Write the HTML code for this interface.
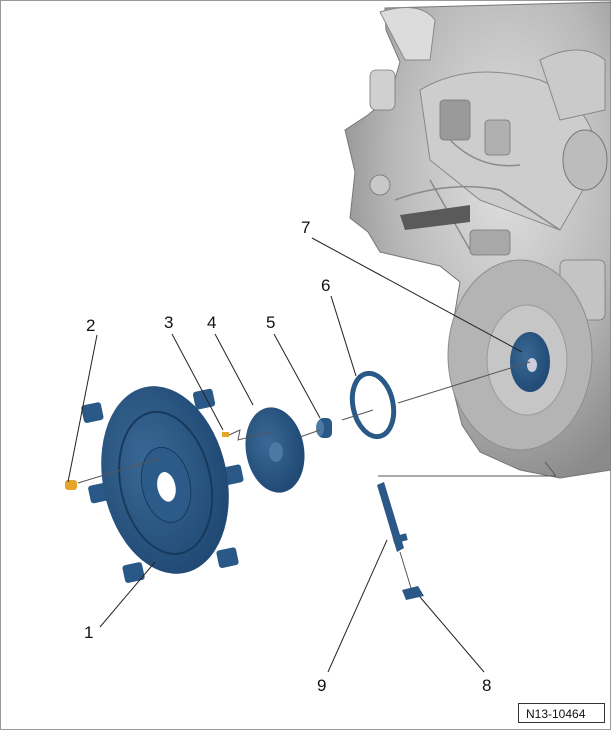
<!DOCTYPE html>
<html><head><style>
html,body{margin:0;padding:0;background:#fff;}
svg{display:block;}
text{font-family:"Liberation Sans",sans-serif;font-size:17px;fill:#111;}
</style></head><body>
<svg width="611" height="730" viewBox="0 0 611 730" xmlns="http://www.w3.org/2000/svg">
<defs>
<radialGradient id="eng" cx="0.6" cy="0.35" r="0.7">
<stop offset="0" stop-color="#e2e2e2"/><stop offset="0.6" stop-color="#b8b8b8"/><stop offset="1" stop-color="#8a8a8a"/>
</radialGradient>
<radialGradient id="bl" cx="0.4" cy="0.4" r="0.7">
<stop offset="0" stop-color="#3a6896"/><stop offset="1" stop-color="#1d4670"/>
</radialGradient>
</defs>
<rect x="0.5" y="0.5" width="610" height="729" fill="#fff" stroke="#999"/>
<!-- engine -->
<path d="M385,8 L611,2 L611,470 L560,478 L520,470 L480,452 L462,425 L452,385 L452,330 L460,282 L440,266 L380,252 L368,232 L350,218 L355,172 L345,130 L368,115 L390,96 L400,62 L386,30 Z" fill="url(#eng)" stroke="#777" stroke-width="1"/>
<path d="M420,90 Q470,60 540,80 Q590,100 600,160 L560,230 L480,200 L430,160 Z" fill="#cdcdcd" stroke="#888"/>
<path d="M380,12 Q420,0 435,20 L430,60 L405,60 Z" fill="#dcdcdc" stroke="#888"/>
<path d="M540,60 Q580,40 605,60 L605,110 L560,120 Z" fill="#cacaca" stroke="#888"/>
<g fill="#9a9a9a" stroke="#777" stroke-width="0.8">
<rect x="440" y="100" width="30" height="40" rx="4"/>
<rect x="485" y="120" width="25" height="35" rx="4" fill="#b0b0b0"/>
<circle cx="380" cy="185" r="10" fill="#c8c8c8"/>
<rect x="470" y="230" width="40" height="25" rx="4" fill="#a8a8a8"/>
<rect x="560" y="260" width="45" height="60" rx="6" fill="#c4c4c4"/>
<rect x="370" y="70" width="25" height="40" rx="6" fill="#d0d0d0"/>
</g>
<g stroke="#8a8a8a" stroke-width="1.5" fill="none">
<path d="M395,200 Q450,180 500,190 L560,230"/>
<path d="M450,140 Q480,170 520,165"/>
<path d="M430,180 L470,250"/>
</g>
<path d="M400,215 L470,205 L470,222 L405,230 Z" fill="#5a5a5a"/>
<ellipse cx="585" cy="160" rx="22" ry="30" fill="#bcbcbc" stroke="#777"/>
<ellipse cx="520" cy="355" rx="72" ry="95" fill="#b4b4b4" stroke="#8d8d8d"/>
<ellipse cx="527" cy="360" rx="40" ry="55" fill="#c6c6c6" stroke="#999"/>
<ellipse cx="530" cy="362" rx="20" ry="30" fill="url(#bl)"/>
<ellipse cx="532" cy="365" rx="5" ry="7" fill="#ccd"/>
<!-- flywheel -->
<g transform="rotate(-12 165 480)">
<rect x="98" y="390" width="20" height="18" rx="3" fill="#2a5988"/>
<rect x="210" y="400" width="20" height="18" rx="3" fill="#2a5988"/>
<rect x="88" y="470" width="20" height="18" rx="3" fill="#2a5988"/>
<rect x="222" y="480" width="20" height="18" rx="3" fill="#2a5988"/>
<rect x="105" y="555" width="20" height="18" rx="3" fill="#2a5988"/>
<rect x="200" y="560" width="20" height="18" rx="3" fill="#2a5988"/>
<ellipse cx="165" cy="480" rx="62" ry="95" fill="url(#bl)"/>
<ellipse cx="165" cy="483" rx="45" ry="72" fill="none" stroke="#17395c" stroke-width="2"/>
<ellipse cx="165" cy="485" rx="24" ry="38" fill="#2c5b8a" stroke="#17395c"/>
<ellipse cx="165" cy="487" rx="9" ry="15" fill="#fff"/>
</g>
<!-- disc 4 -->
<ellipse cx="275" cy="450" rx="29" ry="43" transform="rotate(-10 275 450)" fill="url(#bl)"/>
<ellipse cx="276" cy="452" rx="7" ry="10" fill="#4a79a6"/>
<!-- part 5 -->
<rect x="318" y="418" width="14" height="20" rx="5" fill="#2a5988"/>
<ellipse cx="320" cy="428" rx="4" ry="8" fill="#4d7aa5"/>
<!-- ring 6 -->
<ellipse cx="373" cy="405" rx="20" ry="32" transform="rotate(-12 373 405)" fill="none" stroke="#2a5988" stroke-width="5"/>
<!-- bolt 2 and part 3 -->
<rect x="65" y="480" width="12" height="10" rx="3" fill="#e6a52a"/>
<rect x="222" y="432" width="7" height="5" fill="#e6a52a"/>
<!-- sensor 9 -->
<path d="M377,485 L384,482 L404,548 L397,552 Z" fill="#2a5988"/>
<rect x="393" y="535" width="14" height="7" fill="#2a5988" transform="rotate(-15 400 538)"/>
<path d="M402,590 L418,586 L424,596 L406,600 Z" fill="#2a5988"/>
<!-- dash/assembly lines -->
<g stroke="#555" stroke-width="1" fill="none">
<line x1="78" y1="483" x2="160" y2="458"/>
<path d="M229,435 L240,430 L238,440 L270,432"/>
<line x1="300" y1="437" x2="320" y2="430"/>
<line x1="342" y1="420" x2="373" y2="410"/>
<line x1="398" y1="403" x2="530" y2="362"/>
<line x1="378" y1="476" x2="556" y2="476"/>
<line x1="556" y1="476" x2="545" y2="462"/>
<line x1="400" y1="552" x2="411" y2="588"/>
</g>
<!-- leader lines -->
<g stroke="#222" stroke-width="1" fill="none">
<line x1="97" y1="335" x2="68" y2="482"/>
<line x1="172" y1="334" x2="223" y2="430"/>
<line x1="215" y1="334" x2="253" y2="405"/>
<line x1="274" y1="334" x2="320" y2="418"/>
<line x1="331" y1="296" x2="356" y2="376"/>
<line x1="312" y1="238" x2="522" y2="352"/>
<line x1="100" y1="627" x2="155" y2="562"/>
<line x1="484" y1="672" x2="420" y2="597"/>
<line x1="328" y1="672" x2="387" y2="540"/>
</g>
<text x="84" y="638">1</text>
<text x="86" y="331">2</text>
<text x="164" y="328">3</text>
<text x="207" y="328">4</text>
<text x="266" y="328">5</text>
<text x="321" y="291">6</text>
<text x="301" y="233">7</text>
<text x="482" y="691">8</text>
<text x="317" y="691">9</text>
<rect x="518.5" y="703.5" width="86" height="19" fill="#fff" stroke="#333"/>
<text x="526" y="718" style="font-size:12px">N13-10464</text>
</svg>
</body></html>
